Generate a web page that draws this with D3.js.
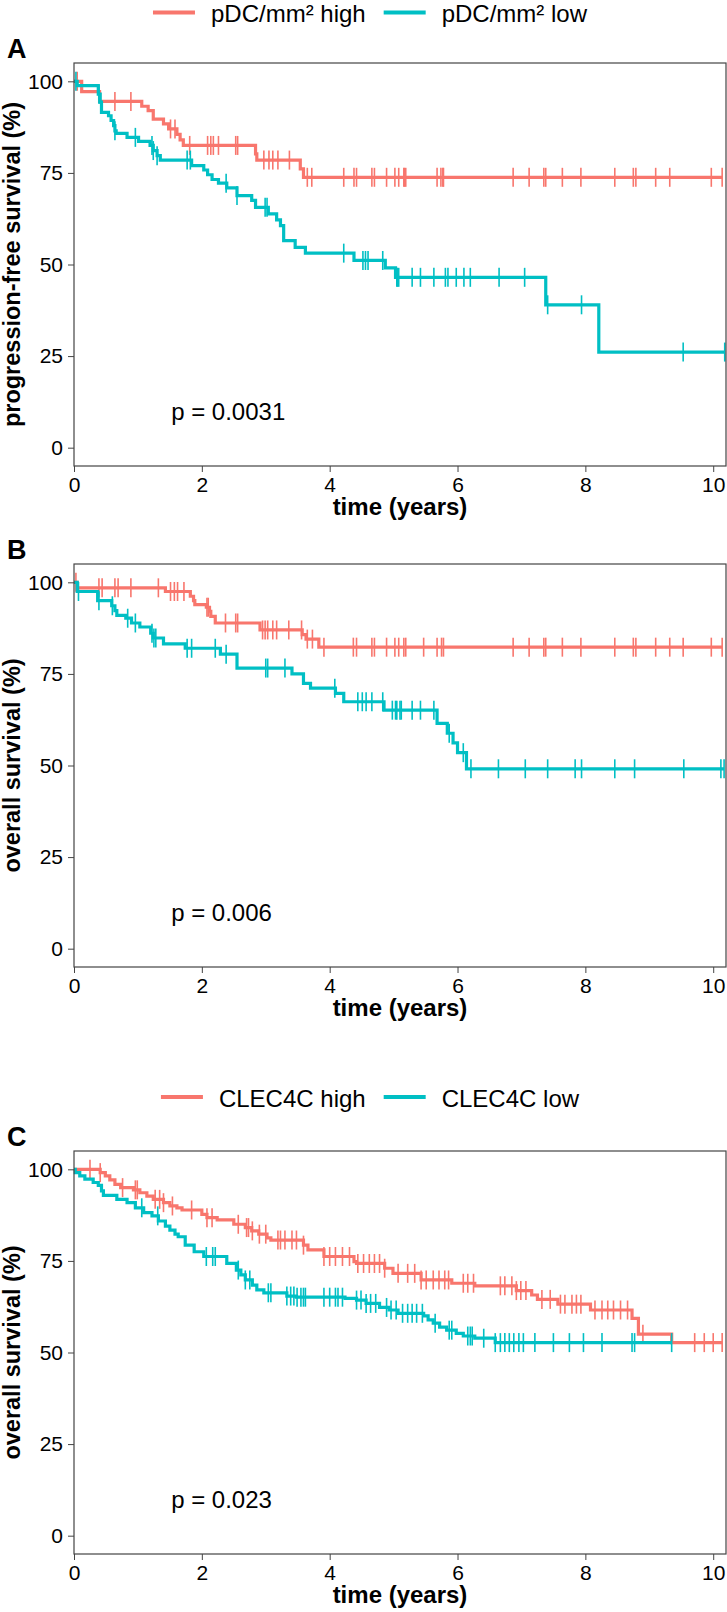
<!DOCTYPE html>
<html>
<head>
<meta charset="utf-8">
<script src="https://cdn.jsdelivr.net/npm/d3@7"></script>
<style>
body { margin: 0; background: #fff; }
svg { display: block; font-family: "Liberation Sans", Arial, sans-serif; }
</style>
</head>
<body>
<div id="chart"></div>
<script>
// colours of the two groups (ggplot defaults)
const groupColors = ["#F8766D", "#00BFC4"];
const legendTop = ["pDC/mm² high", "pDC/mm² low"];
const legendBottom = ["CLEC4C high", "CLEC4C low"];
const xTicks = [0, 2, 4, 6, 8, 10];
const yTicks = [0, 25, 50, 75, 100];

// panel A: progression-free survival (event times in years, survival % after the drop)
const aHighTime = [0.12, 0.40, 1.06, 1.16, 1.24, 1.40, 1.48, 1.61, 1.66, 1.71, 2.84, 2.86, 3.54, 3.59];
const aHighSurv = [97.2, 94.5, 93.2, 92.0, 89.7, 88.4, 87.0, 85.5, 84.0, 82.5, 80.2, 78.5, 76.1, 73.8];
const aHighCensor = [0.05, 0.64, 0.89, 1.51, 1.58, 1.81, 2.09, 2.14, 2.18, 2.26, 2.53, 2.56, 2.97, 3.05, 3.11, 3.19, 3.37,
  3.65, 3.72, 4.22, 4.38, 4.42, 4.66, 4.70, 4.89, 5.02, 5.08, 5.16, 5.17, 5.19, 5.68, 5.74, 5.77, 5.78, 6.87, 7.12,
  7.35, 7.38, 7.64, 7.93, 8.46, 8.75, 8.79, 9.10, 9.32, 9.97, 10.14];
const aLowTime = [0.05, 0.38, 0.41, 0.43, 0.54, 0.58, 0.62, 0.64, 0.66, 0.83, 1.01, 1.19, 1.24, 1.30, 1.35, 1.84, 2.03,
  2.09, 2.16, 2.26, 2.39, 2.55, 2.78, 2.84, 3.04, 3.17, 3.23, 3.28, 3.46, 3.62, 4.38, 4.87, 5.03, 7.38, 8.21];
const aLowSurv = [98.8, 96.5, 94.3, 91.5, 90.6, 89.3, 87.9, 86.5, 85.8, 84.7, 83.6, 82.5, 81.1, 79.7, 78.5, 77.0, 75.8,
  74.5, 73.2, 72.2, 70.9, 68.8, 67.5, 65.6, 63.8, 62.2, 60.6, 56.5, 54.7, 53.1, 51.1, 49.1, 46.5, 39.0, 26.1];
const aLowCensor = [0.03, 0.39, 0.64, 0.96, 1.22, 1.24, 1.30, 1.77, 1.82, 2.38, 2.55, 2.99, 3.02, 4.22, 4.52, 4.56, 4.60,
  4.83, 5.05, 5.06, 5.08, 5.29, 5.42, 5.63, 5.81, 5.85, 5.98, 6.10, 6.20, 6.65, 7.05, 7.41, 7.94, 9.53, 10.18];

// panel B: overall survival, pDC groups
const bHighTime = [0.05, 1.43, 1.82, 1.87, 1.89, 2.07, 2.12, 2.14, 2.21, 2.91, 3.57, 3.63, 3.83];
const bHighSurv = [98.5, 97.5, 96.2, 95.0, 93.9, 93.2, 92.1, 90.7, 88.9, 87.0, 85.7, 84.5, 82.3];
const bHighCensor = [0.03, 0.39, 0.44, 0.64, 0.69, 0.89, 1.32, 1.51, 1.57, 1.62, 1.72, 2.08, 2.10, 2.37, 2.53, 2.56,
  2.95, 2.99, 3.03, 3.11, 3.17, 3.36, 3.56, 3.65, 3.73, 3.91, 4.37, 4.42, 4.66, 4.70, 4.89, 5.02, 5.08, 5.16, 5.19,
  5.47, 5.68, 5.75, 5.78, 6.87, 7.12, 7.35, 7.38, 7.64, 7.93, 8.46, 8.75, 8.79, 9.10, 9.32, 9.53, 9.97, 10.14];
const bLowTime = [0.05, 0.37, 0.59, 0.64, 0.67, 0.81, 0.90, 1.03, 1.20, 1.24, 1.40, 1.74, 2.29, 2.55, 3.41, 3.59, 3.70,
  4.09, 4.22, 4.85, 5.68, 5.84, 5.93, 6.00, 6.14];
const bLowSurv = [97.5, 95.0, 93.6, 92.3, 91.0, 90.2, 88.9, 87.8, 86.1, 84.8, 83.2, 82.0, 80.4, 76.6, 75.0, 72.4, 71.1,
  69.7, 67.4, 65.1, 61.5, 58.8, 56.2, 53.5, 49.1];
const bLowCensor = [0.07, 0.39, 0.60, 0.84, 0.96, 1.22, 1.25, 1.28, 1.77, 1.84, 2.21, 2.38, 3.00, 3.03, 3.30, 4.08,
  4.44, 4.51, 4.57, 4.66, 4.83, 4.98, 5.03, 5.05, 5.10, 5.12, 5.29, 5.42, 5.63, 5.87, 6.09, 6.21, 6.64, 7.06, 7.41,
  7.84, 7.94, 8.46, 8.77, 9.54, 10.12, 10.17];

// panel C: overall survival, CLEC4C groups
const cHighTime = [0.41, 0.49, 0.56, 0.64, 0.73, 0.93, 1.03, 1.14, 1.24, 1.40, 1.50, 1.61, 1.69, 2.00, 2.08, 2.24, 2.50,
  2.68, 2.78, 2.89, 3.02, 3.08, 3.59, 3.66, 3.91, 4.38, 4.42, 4.86, 4.99, 5.43, 5.91, 6.27, 6.92, 7.16, 7.25, 7.57,
  8.08, 8.73, 8.83, 9.35];
const cHighSurv = [99.1, 98.2, 97.1, 95.9, 95.0, 94.4, 93.6, 92.7, 91.8, 90.9, 90.0, 89.5, 88.9, 87.7, 86.8, 86.2, 85.0,
  84.1, 83.2, 82.3, 81.3, 80.7, 79.3, 78.0, 76.2, 74.8, 74.3, 73.0, 71.6, 69.8, 68.9, 68.2, 66.9, 65.7, 64.5, 63.2,
  61.6, 59.3, 55.0, 52.7];
const cHighCensor = [0.25, 0.41, 0.76, 0.96, 0.99, 1.27, 1.34, 1.40, 1.54, 1.84, 2.08, 2.16, 2.57, 2.70, 2.73, 2.79,
  2.90, 3.00, 3.19, 3.23, 3.30, 3.41, 3.48, 3.59, 3.91, 4.00, 4.09, 4.20, 4.31, 4.44, 4.53, 4.62, 4.70, 4.78, 4.86,
  5.07, 5.22, 5.33, 5.43, 5.51, 5.62, 5.71, 5.80, 5.86, 6.09, 6.16, 6.25, 6.67, 6.74, 6.85, 6.92, 6.99, 7.07, 7.32,
  7.45, 7.61, 7.68, 7.79, 7.86, 7.93, 8.15, 8.26, 8.35, 8.44, 8.55, 8.66, 8.90, 9.71, 9.86, 10.00, 10.14];
const cLowTime = [0.02, 0.09, 0.17, 0.30, 0.38, 0.43, 0.46, 0.67, 0.83, 0.96, 1.09, 1.22, 1.32, 1.43, 1.50, 1.58, 1.63,
  1.74, 1.88, 2.03, 2.39, 2.54, 2.61, 2.68, 2.79, 2.86, 2.97, 3.33, 3.48, 4.24, 4.42, 4.57, 4.78, 4.93, 5.07, 5.47,
  5.54, 5.62, 5.72, 5.83, 5.98, 6.09, 6.27, 6.59];
const cLowSurv = [99.1, 98.2, 97.3, 96.4, 95.6, 94.1, 92.9, 91.8, 90.9, 89.5, 88.2, 87.3, 85.9, 84.5, 83.4, 82.3, 81.6,
  79.3, 77.5, 76.2, 74.3, 72.5, 71.2, 69.8, 68.4, 67.1, 66.3, 65.4, 65.1, 64.8, 64.3, 63.4, 62.3, 61.6, 60.7, 60.0,
  58.9, 58.0, 56.9, 56.1, 55.2, 54.5, 53.9, 52.7];
const cLowCensor = [1.06, 1.31, 2.07, 2.17, 2.21, 2.57, 2.68, 2.75, 3.04, 3.08, 3.33, 3.39, 3.44, 3.49, 3.55, 3.59,
  3.62, 3.91, 4.00, 4.09, 4.13, 4.20, 4.42, 4.49, 4.57, 4.64, 4.72, 4.89, 4.96, 5.04, 5.14, 5.22, 5.29, 5.36, 5.45,
  5.65, 5.87, 5.91, 6.16, 6.20, 6.23, 6.41, 6.59, 6.67, 6.74, 6.81, 6.88, 6.96, 7.03, 7.21, 7.50, 7.75, 7.97, 8.26,
  8.73, 8.77, 9.35];

function init() {
    var w = 727;
    var h = 1612;
    var left = 74;
    var right = 726;

    const svg = d3.select("#chart")
        .append("svg")
        .attr("width", w)
        .attr("height", h);

    const xScale = d3.scaleLinear().domain([0, 10.2]).range([left, right]);

    drawLegend(legendTop, 63);
    drawPanel({
        top: 63, bottom: 466, letter: "A", yTitle: "progression-free survival (%)", pval: "p = 0.0031",
        groups: [[aHighTime, aHighSurv, aHighCensor], [aLowTime, aLowSurv, aLowCensor]]
    });
    drawPanel({
        top: 564, bottom: 967, letter: "B", yTitle: "overall survival (%)", pval: "p = 0.006",
        groups: [[bHighTime, bHighSurv, bHighCensor], [bLowTime, bLowSurv, bLowCensor]]
    });
    drawLegend(legendBottom, 1151);
    drawPanel({
        top: 1151, bottom: 1554, letter: "C", yTitle: "overall survival (%)", pval: "p = 0.023",
        groups: [[cHighTime, cHighSurv, cHighCensor], [cLowTime, cLowSurv, cLowCensor]]
    });

    function drawLegend(labels, top) {
        const g = svg.append("g");
        // keep the top legend fully inside the page
        const base = Math.max(top - 44.5, 22);
        let pos = 0;
        labels.forEach((label, i) => {
            g.append("line")
                .attr("x1", pos).attr("x2", pos + 42)
                .attr("y1", base - 9.5).attr("y2", base - 9.5)
                .attr("stroke", groupColors[i])
                .attr("stroke-width", 4);
            const t = g.append("text")
                .attr("x", pos + 58)
                .attr("y", base)
                .attr("font-size", 24)
                .text(label);
            pos += 58 + t.node().getComputedTextLength() + 18;
        });
        // centre the legend over the figure
        pos -= 18;
        g.attr("transform", `translate(${370 - pos / 2}, 0)`);
    }

    function drawPanel(p) {
        const yScale = d3.scaleLinear().domain([-5, 105]).range([p.bottom, p.top]);

        const line = d3.line()
            .x(d => xScale(d[0]))
            .y(d => yScale(d[1]))
            .curve(d3.curveStepAfter);

        p.groups.forEach((grp, i) => {
            const times = grp[0], surv = grp[1], censor = grp[2];
            const end = Math.max(d3.max(censor), d3.max(times));
            const pts = [[0, 100]];
            times.forEach((t, k) => pts.push([t, surv[k]]));
            pts.push([end, surv[surv.length - 1]]);

            svg.append("path")
                .attr("d", line(pts))
                .attr("fill", "none")
                .attr("stroke", groupColors[i])
                .attr("stroke-width", 3.2);

            // survival value at a censoring time
            const survAt = t => {
                const k = d3.bisectRight(times, t);
                return k === 0 ? 100 : surv[k - 1];
            };

            svg.append("g")
                .selectAll("line")
                .data(censor)
                .enter()
                .append("line")
                .attr("x1", d => xScale(d))
                .attr("x2", d => xScale(d))
                .attr("y1", d => yScale(survAt(d)) - 9.5)
                .attr("y2", d => yScale(survAt(d)) + 9.5)
                .attr("stroke", groupColors[i])
                .attr("stroke-width", 1.6);
        });

        // panel box
        svg.append("rect")
            .attr("x", left).attr("y", p.top)
            .attr("width", right - left).attr("height", p.bottom - p.top)
            .attr("fill", "none")
            .attr("stroke", "#444")
            .attr("stroke-width", 1.2);

        const yAxis = d3.axisLeft(yScale).tickValues(yTicks).tickSize(6).tickPadding(5);
        const xAxis = d3.axisBottom(xScale).tickValues(xTicks).tickSize(6).tickPadding(5);

        const gy = svg.append("g")
            .attr("transform", `translate(${left}, 0)`)
            .call(yAxis);
        const gx = svg.append("g")
            .attr("transform", `translate(0, ${p.bottom})`)
            .call(xAxis);

        [gx, gy].forEach(g => {
            g.attr("font-family", null).attr("font-size", 21);
            g.select(".domain").remove();
            g.selectAll(".tick line").attr("stroke", "#444");
            g.selectAll(".tick text").attr("fill", "#000");
        });

        // axis titles
        svg.append("text")
            .attr("x", (left + right) / 2)
            .attr("y", p.bottom + 49)
            .attr("text-anchor", "middle")
            .attr("font-size", 24)
            .attr("font-weight", "bold")
            .text("time (years)");

        svg.append("text")
            .attr("transform", `translate(20, ${(p.top + p.bottom) / 2}) rotate(-90)`)
            .attr("text-anchor", "middle")
            .attr("font-size", 23.5)
            .attr("font-weight", "bold")
            .text(p.yTitle);

        // panel letter
        svg.append("text")
            .attr("x", 7)
            .attr("y", p.top - 5)
            .attr("font-size", 27)
            .attr("font-weight", "bold")
            .text(p.letter);

        // log-rank p value
        svg.append("text")
            .attr("x", xScale(1.52))
            .attr("y", yScale(10) + 8.6)
            .attr("font-size", 24)
            .text(p.pval);
    }
}

window.onload = init;
</script>
</body>
</html>
